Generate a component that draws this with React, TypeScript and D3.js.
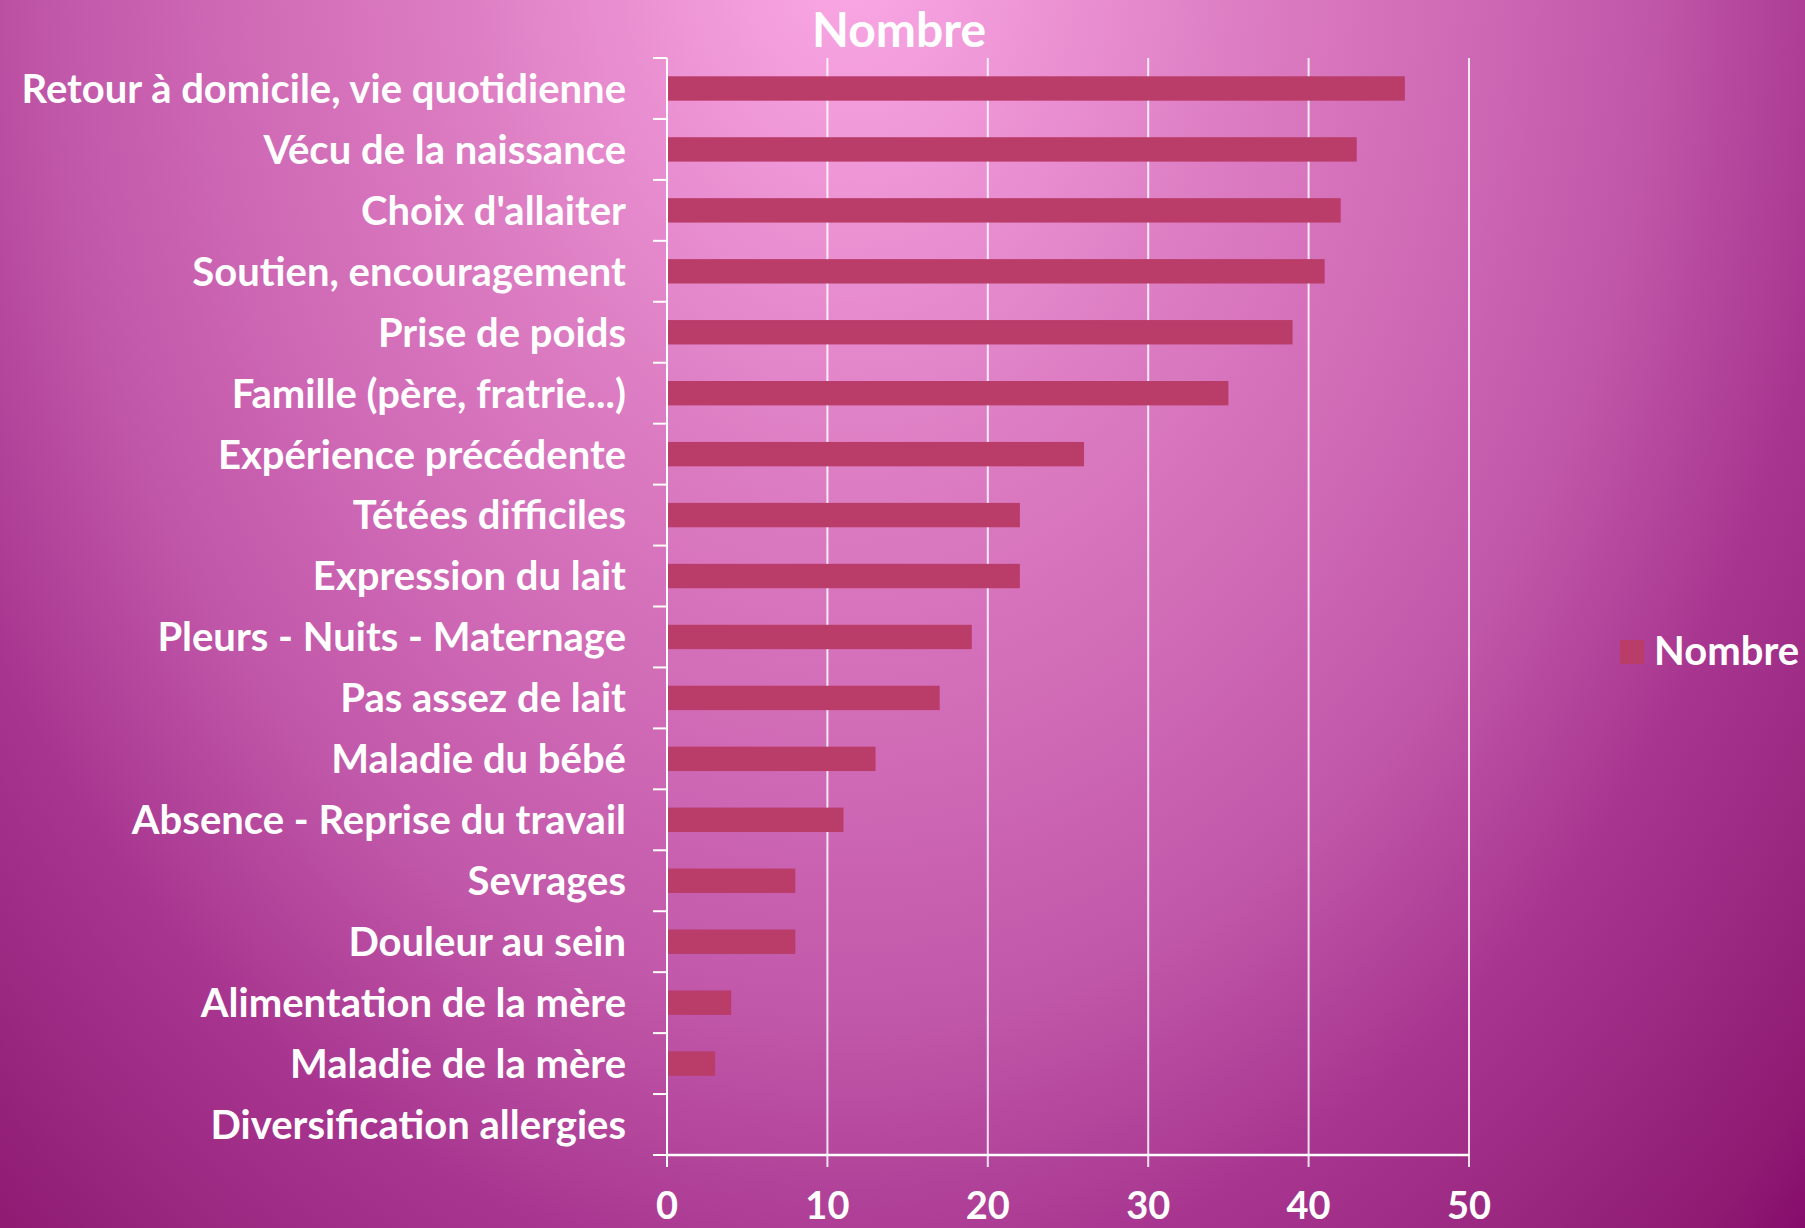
import * as d3 from 'd3';

const categories = [
  'Retour à domicile, vie quotidienne',
  'Vécu de la naissance',
  "Choix d'allaiter",
  'Soutien, encouragement',
  'Prise de poids',
  'Famille (père, fratrie...)',
  'Expérience précédente',
  'Tétées difficiles',
  'Expression du lait',
  'Pleurs - Nuits - Maternage',
  'Pas assez de lait',
  'Maladie du bébé',
  'Absence - Reprise du travail',
  'Sevrages',
  'Douleur au sein',
  'Alimentation de la mère',
  'Maladie de la mère',
  'Diversification allergies',
];
const values = [46, 43, 42, 41, 39, 35, 26, 22, 22, 19, 17, 13, 11, 8, 8, 4, 3, 0];
const xTicks = [0, 10, 20, 30, 40, 50];
const seriesName = 'Nombre';

const W = 1805;
const H = 1228;
const FONT = 'Lato, "Open Sans", sans-serif';

export default function App() {
  const top = 58;
  const bottom = 1155;
  const x = d3.scaleLinear().domain([0, 50]).range([667, 1469]);
  const y = d3.scaleBand<string>().domain(categories).range([top, bottom]).paddingInner(0.6).paddingOuter(0.3);
  const step = y.step();
  const boundaries = d3.range(categories.length + 1).map((i) => top + i * step);
  const barColor = '#b93c69';

  return (
    <div style={{ position: 'absolute', left: 0, top: 0 }}>
      <svg width={W} height={H} style={{ display: 'block' }}>
        <defs>
          <radialGradient id="bg" gradientUnits="userSpaceOnUse" cx={850} cy={-60} r={1350}
            gradientTransform="translate(850,-60) scale(1,1.35) translate(-850,60)">
            <stop offset="0" stopColor="#fcaae6" />
            <stop offset="0.3" stopColor="#dc7cc2" />
            <stop offset="0.45" stopColor="#d06ab6" />
            <stop offset="0.6" stopColor="#c056a8" />
            <stop offset="0.74" stopColor="#a83690" />
            <stop offset="0.95" stopColor="#8e1a72" />
            <stop offset="1" stopColor="#860c6c" />
          </radialGradient>
        </defs>
        <rect x={0} y={0} width={W} height={H} fill="url(#bg)" />

        {/* gridlines */}
        {xTicks.slice(1).map((t) => (
          <line key={'g' + t} x1={x(t)} x2={x(t)} y1={top} y2={bottom + 12}
            stroke="#ffffff" strokeOpacity={0.85} strokeWidth={2} />
        ))}

        {/* bars */}
        {categories.map((c, i) => (
          <rect key={c} x={x(0)} y={y(c)} width={x(values[i]) - x(0)} height={y.bandwidth()}
            fill={barColor} />
        ))}

        {/* axes */}
        <line x1={x(0)} x2={x(0)} y1={top} y2={bottom + 12} stroke="#fff" strokeWidth={2} />
        <line x1={x(0)} x2={x(50)} y1={bottom} y2={bottom} stroke="#fff" strokeWidth={2.5} />
        {boundaries.map((b, i) => (
          <line key={'t' + i} x1={x(0) - 14} x2={x(0)} y1={b} y2={b} stroke="#fff" strokeWidth={2} />
        ))}

        {/* category labels */}
        {categories.map((c) => (
          <text key={'l' + c} x={626} y={(y(c) ?? 0) + y.bandwidth() / 2} dy="0.36em"
            textAnchor="end" fill="#fff" fontFamily={FONT} fontWeight={700} fontSize={40}>
            {c}
          </text>
        ))}

        {/* x tick labels */}
        {xTicks.map((t) => (
          <text key={'x' + t} x={x(t)} y={1219} textAnchor="middle" fill="#fff"
            fontFamily={FONT} fontWeight={700} fontSize={38}>
            {t}
          </text>
        ))}

        {/* title */}
        <text x={899} y={47} textAnchor="middle" fill="#fff" fontFamily={FONT} fontWeight={700} fontSize={48}>
          {seriesName}
        </text>

        {/* legend */}
        <rect x={1620} y={640} width={24} height={24} fill={barColor} />
        <text x={1654} y={665} fill="#fff" fontFamily={FONT} fontWeight={700} fontSize={40}>
          {seriesName}
        </text>
      </svg>
    </div>
  );
}
